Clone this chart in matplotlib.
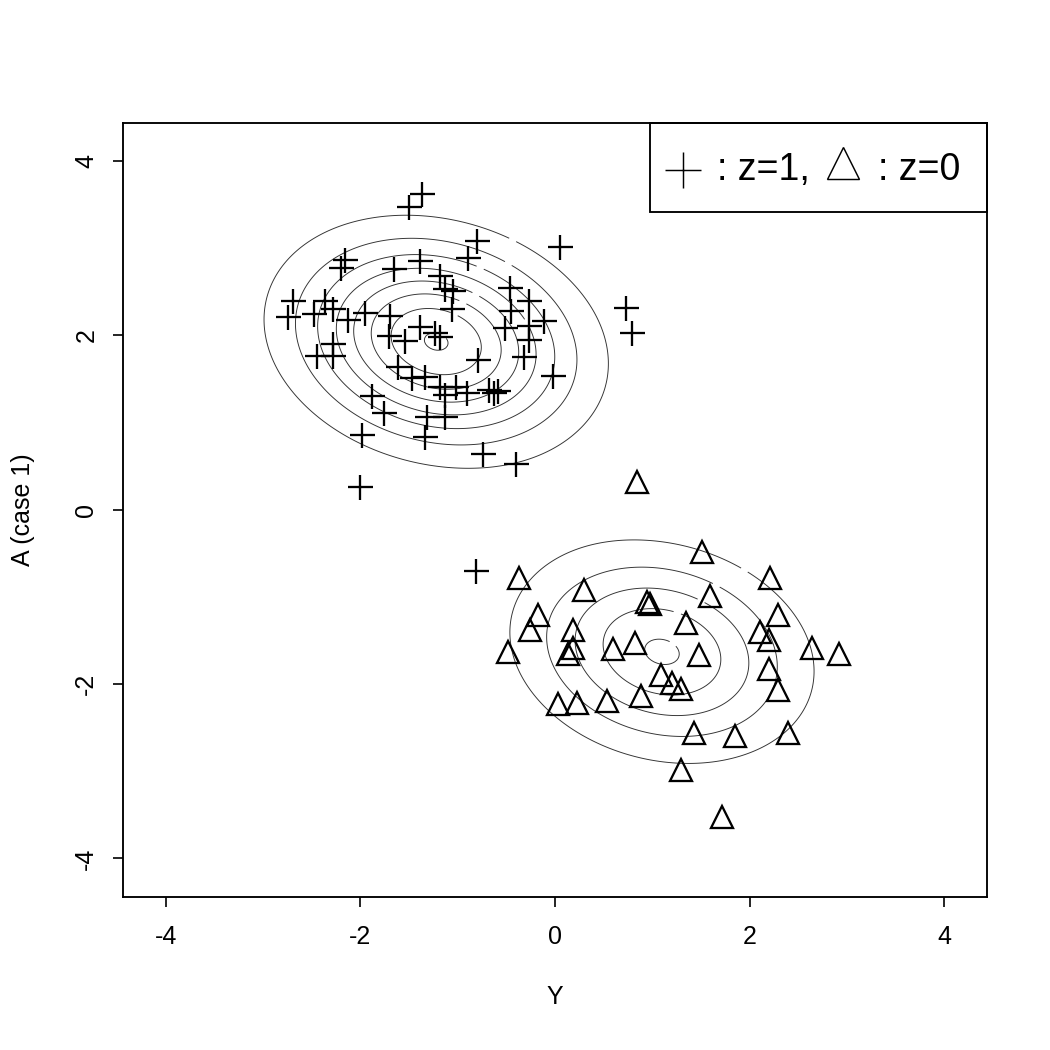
import numpy as np
import matplotlib.pyplot as plt

plt.rcParams['font.family'] = ['Liberation Sans', 'DejaVu Sans']

# points: z = 1 (plus) and z = 0 (triangle)
y1 = [-1.50, -1.37, -0.80, -0.89, 0.05, 0.73, 0.79, -2.16, -2.20, -1.65,
      -1.39, -1.18, -1.13, -2.69, -2.74, -2.48, -2.36, -2.28, -2.13, -1.95,
      -1.69, -1.39, -1.23, -1.05, -1.06, -0.46, -0.27, -0.45, -0.11, -0.51,
      -0.27, -1.71, -1.54, -2.28, -2.45, -2.28, -1.18, -1.61, -1.47, -1.33,
      -1.18, -1.13, -1.88, -1.76, -1.31, -1.13, -1.98, -1.34, -2.00, -0.79,
      -0.32, -0.27, -0.02, -1.02, -0.90, -0.68, -0.63, -0.58, -0.74, -0.40,
      -0.81]
a1 = [3.48, 3.62, 3.08, 2.89, 3.02, 2.31, 2.03, 2.87, 2.77, 2.76,
      2.86, 2.68, 2.53, 2.40, 2.21, 2.25, 2.39, 2.30, 2.18, 2.26,
      2.22, 2.10, 2.03, 2.51, 2.30, 2.55, 2.39, 2.28, 2.17, 2.09,
      2.11, 1.99, 1.94, 1.90, 1.76, 1.76, 1.98, 1.64, 1.51, 1.52,
      1.41, 1.32, 1.31, 1.11, 1.07, 1.06, 0.86, 0.84, 0.26, 1.72,
      1.75, 1.95, 1.54, 1.41, 1.34, 1.38, 1.34, 1.36, 0.64, 0.52,
      -0.70]

y0 = [0.84, -0.37, 0.30, 0.95, 0.98, -0.17, -0.26, 0.19, 1.51, 2.21,
      1.59, 2.29, 1.35, 2.11, 2.20, -0.48, 0.19, 0.13, 0.60, 0.82,
      1.09, 1.20, 1.30, 0.03, 0.23, 0.53, 0.88, 2.64, 2.92, 1.48,
      2.20, 2.29, 1.43, 1.85, 2.40, 1.30, 1.72]
a0 = [0.32, -0.78, -0.92, -1.06, -1.08, -1.21, -1.38, -1.38, -0.49, -0.78,
      -0.99, -1.21, -1.30, -1.40, -1.49, -1.63, -1.59, -1.66, -1.60, -1.53,
      -1.90, -1.99, -2.06, -2.23, -2.22, -2.20, -2.14, -1.59, -1.66, -1.67,
      -1.83, -2.07, -2.56, -2.60, -2.56, -2.99, -3.53]

# mixture density behind the contour lines
mu1 = [-1.22, 1.93]
mu0 = [1.10, -1.63]
cov = [[0.749, -0.107], [-0.107, 0.503]]
weights = [1.0, 0.632]
n_levels = 8
peak_ratio = 8.08

ticks = [-4, -2, 0, 2, 4]
lim = 4.44


def gauss(X, Y, mu, S):
    S = np.array(S)
    inv = np.linalg.inv(S)
    dx = X - mu[0]
    dy = Y - mu[1]
    q = inv[0, 0] * dx**2 + 2 * inv[0, 1] * dx * dy + inv[1, 1] * dy**2
    return np.exp(-q / 2) / (2 * np.pi * np.sqrt(np.linalg.det(S)))


fig = plt.figure(figsize=(7, 7), dpi=150)
ax = fig.add_axes([0.117, 0.146, 0.823, 0.737])

gx = np.linspace(-lim, lim, 400)
X, Y = np.meshgrid(gx, gx)
dens = weights[0] * gauss(X, Y, mu1, cov) + weights[1] * gauss(X, Y, mu0, cov)
peak = weights[0] * gauss(np.array(mu1[0]), np.array(mu1[1]), mu1, cov)
delta = peak / peak_ratio
levels = delta * np.arange(1, n_levels + 1)
cs = ax.contour(X, Y, dens, levels=levels, colors='#333333', linewidths=0.45)
ax.clabel(cs, fmt=lambda v: '  ', inline=True, fontsize=5, inline_spacing=1)

ax.plot(y1, a1, linestyle='none', marker='+', markersize=12, mew=1.1, color='black')
ax.plot(y0, a0, linestyle='none', marker='^', markersize=11, mew=1.1,
        markerfacecolor='none', markeredgecolor='black')

ax.set_xlim(-lim, lim)
ax.set_ylim(-lim, lim)
ax.set_xticks(ticks)
ax.set_yticks(ticks)
ax.set_xticklabels([str(t) for t in ticks], fontsize=12)
ax.set_yticklabels([str(t) for t in ticks], fontsize=12, rotation=90, va='center')
ax.tick_params(length=4.8, width=0.8)
ax.tick_params(axis='x', pad=9)
ax.tick_params(axis='y', pad=7)
for s in ax.spines.values():
    s.set_linewidth(0.9)
ax.set_xlabel('Y', fontsize=12, labelpad=17)
ax.set_ylabel('A (case 1)', fontsize=12, labelpad=19)

# legend box in the top right corner
ax.add_patch(plt.Rectangle((0.610, 0.885), 0.390, 0.115, transform=ax.transAxes,
                           fill=False, lw=0.9, clip_on=False))
ax.plot([0.648], [0.939], transform=ax.transAxes, marker='+', markersize=17,
        mew=0.7, color='black', clip_on=False)
ax.text(0.6875, 0.939, ': z=1,', transform=ax.transAxes, fontsize=18, va='center')
ax.plot([0.833], [0.948], transform=ax.transAxes, marker='^', markersize=15,
        mew=0.7, markerfacecolor='none', markeredgecolor='black', clip_on=False)
ax.text(0.874, 0.939, ': z=0', transform=ax.transAxes, fontsize=18, va='center')

fig.savefig('out.png', dpi=150)
